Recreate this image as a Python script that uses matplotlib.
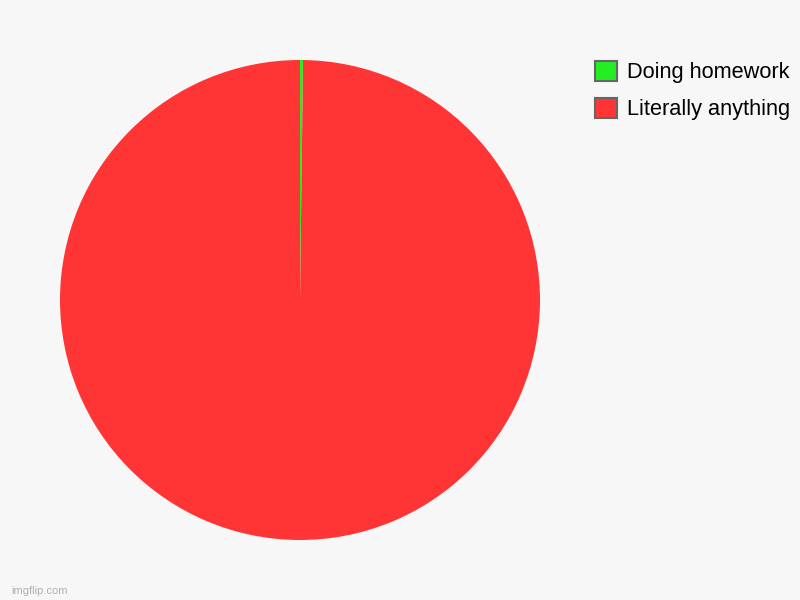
import matplotlib.pyplot as plt

# Chart data
labels = ['Doing homework', 'Literally anything']
values = [0.2, 99.8]
colors = ['#22ee22', '#ff3535']

plt.rcParams['font.family'] = ['Liberation Sans', 'DejaVu Sans']

fig = plt.figure(figsize=(8, 6), dpi=100, facecolor='#f7f7f7')
ax = fig.add_axes([0.075, 0.1, 0.6, 0.8])
ax.set_facecolor('#f7f7f7')

wedges, _ = ax.pie(values, colors=colors, startangle=90, counterclock=False,
                   radius=1, wedgeprops={'linewidth': 0})
ax.set_xlim(-1, 1)
ax.set_ylim(-1, 1)
ax.set_aspect('equal')
ax.axis('off')

# Legend with gray-edged square handles
handles = [plt.Rectangle((0, 0), 1, 1, facecolor=c, edgecolor='#666666', linewidth=1.5)
           for c in colors]
fig.legend(handles, labels, loc='upper left', bbox_to_anchor=(0.744, 0.898),
           frameon=False, fontsize=15.7, handlelength=1.0, handleheight=1.0,
           handletextpad=0.45, labelspacing=0.68, borderaxespad=0, borderpad=0)

# Watermark
fig.text(0.014, 0.007, 'imgflip.com', fontsize=8, color='#b0b0b0', ha='left', va='bottom')

plt.savefig('out.png', facecolor=fig.get_facecolor())
